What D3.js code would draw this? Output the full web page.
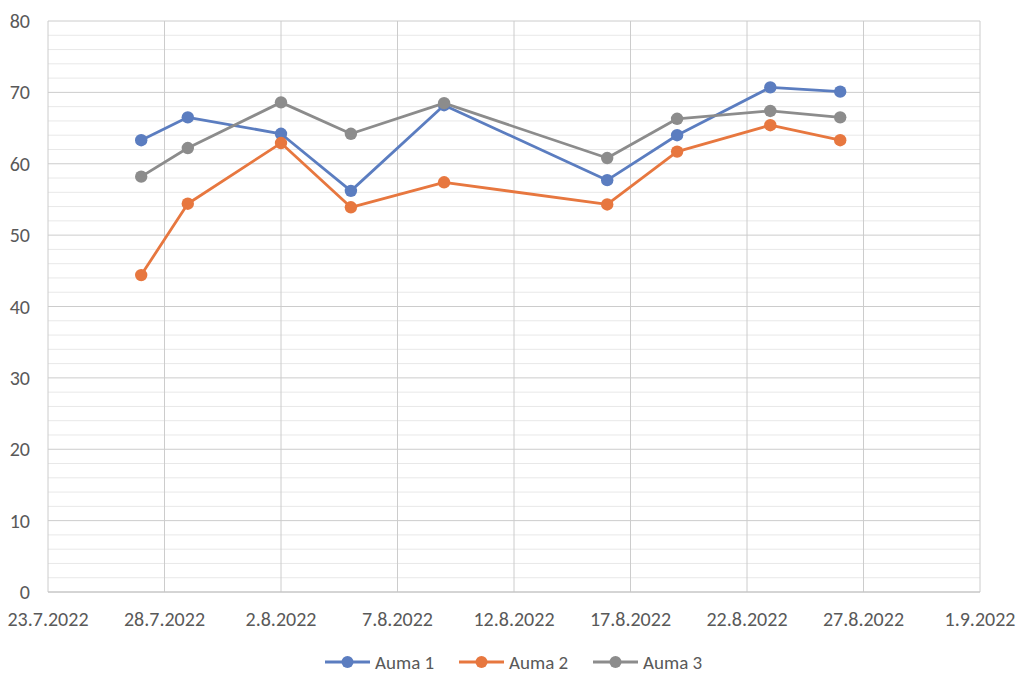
<!DOCTYPE html>
<html><head><meta charset="utf-8">
<script src="https://cdn.jsdelivr.net/npm/d3@7"></script>
<style>body{margin:0;background:#fff}svg{display:block}</style>
</head><body><svg id="c" width="1024" height="691"></svg>
<script>
const dates = ["2022-07-27","2022-07-29","2022-08-02","2022-08-05","2022-08-09","2022-08-16","2022-08-19","2022-08-23","2022-08-26"];
const auma1 = [63.3, 66.5, 64.2, 56.2, 68.2, 57.7, 64.0, 70.7, 70.1];
const auma2 = [44.4, 54.4, 62.9, 53.9, 57.4, 54.3, 61.7, 65.4, 63.3];
const auma3 = [58.2, 62.2, 68.6, 64.2, 68.5, 60.8, 66.3, 67.4, 66.5];
const seriesNames = ["Auma 1","Auma 2","Auma 3"];
const xTicks = ["2022-07-23","2022-07-28","2022-08-02","2022-08-07","2022-08-12","2022-08-17","2022-08-22","2022-08-27","2022-09-01"];
const yTicks = [0,10,20,30,40,50,60,70,80];
const yMinor = [2,4,6,8,12,14,16,18,22,24,26,28,32,34,36,38,42,44,46,48,52,54,56,58,62,64,66,68,72,74,76,78];

const colors = ["#5b7dc0","#e7773f","#8c8c8c"];
const font = "Carlito, Calibri, 'Open Sans', sans-serif";
const svg = d3.select("#c");
const L=48, R=980, T=21, B=592;
const parse = d3.utcParse("%Y-%m-%d");
const fmt = d => d.getUTCDate()+"."+(d.getUTCMonth()+1)+"."+d.getUTCFullYear();
const x = d3.scaleUtc().domain([parse(xTicks[0]), parse(xTicks[xTicks.length-1])]).range([L,R]);
const y = d3.scaleLinear().domain([0,80]).range([B,T]);

// minor gridlines
svg.append("g").selectAll("line").data(yMinor).join("line")
  .attr("x1",L).attr("x2",R).attr("y1",d=>y(d)).attr("y2",d=>y(d))
  .attr("stroke","#e8e8e8").attr("stroke-width",1);
// major horizontal gridlines
svg.append("g").selectAll("line").data(yTicks).join("line")
  .attr("x1",L).attr("x2",R).attr("y1",d=>y(d)).attr("y2",d=>y(d))
  .attr("stroke","#cccccc").attr("stroke-width",1);
// vertical gridlines
svg.append("g").selectAll("line").data(xTicks.map(parse)).join("line")
  .attr("x1",d=>x(d)).attr("x2",d=>x(d)).attr("y1",T).attr("y2",B)
  .attr("stroke","#cccccc").attr("stroke-width",1);
svg.append("line").attr("x1",L).attr("x2",R).attr("y1",B).attr("y2",B).attr("stroke","#c4c4c4").attr("stroke-width",1.2);

// y labels
svg.append("g").selectAll("text").data(yTicks).join("text")
  .attr("x",30).attr("y",d=>y(d)).attr("dy","0.35em").attr("text-anchor","end")
  .attr("font-family",font).attr("font-size",20).attr("fill","#595959").text(d=>d);
// x labels
svg.append("g").selectAll("text").data(xTicks.map(parse)).join("text")
  .attr("x",d=>x(d)).attr("y",619).attr("dy","0.35em").attr("text-anchor","middle")
  .attr("font-family",font).attr("font-size",20).attr("fill","#595959").text(fmt);

const allSeries = [auma1, auma2, auma3];
const line = d3.line().x(d=>x(d[0])).y(d=>y(d[1]));
allSeries.forEach((vals,i)=>{
  const pts = vals.map((v,j)=>[parse(dates[j]), v]);
  svg.append("path").datum(pts).attr("d",line).attr("fill","none")
    .attr("stroke",colors[i]).attr("stroke-width",2.8).attr("stroke-linejoin","round");
  svg.append("g").selectAll("circle").data(pts).join("circle")
    .attr("cx",d=>x(d[0])).attr("cy",d=>y(d[1])).attr("r",6.2).attr("fill",colors[i]);
});

// legend
const legX = [325, 459, 593];
seriesNames.forEach((n,i)=>{
  const g = svg.append("g").attr("transform",`translate(${legX[i]},662)`);
  g.append("line").attr("x1",0).attr("x2",45).attr("stroke",colors[i]).attr("stroke-width",2.8);
  g.append("circle").attr("cx",22.5).attr("r",6).attr("fill",colors[i]);
  g.append("text").attr("x",50).attr("dy","0.35em").attr("font-family",font).attr("font-size",19)
    .attr("fill","#595959").text(n);
});
</script></body></html>
